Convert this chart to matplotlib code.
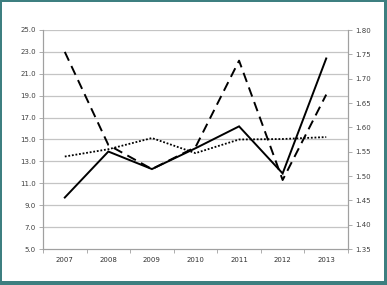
import matplotlib
matplotlib.use("Agg")
import matplotlib.pyplot as plt
from matplotlib.patches import Rectangle
import numpy as np

years = ["2007", "2008", "2009", "2010", "2011", "2012", "2013"]
solid = [9.7, 13.9, 12.3, 14.2, 16.2, 11.9, 22.4]
dashed = [23.0, 14.5, 12.3, 14.3, 22.2, 11.3, 19.1]
dotted_right = [1.540, 1.555, 1.578, 1.547, 1.575, 1.576, 1.580]

left_ticks = [5.0, 7.0, 9.0, 11.0, 13.0, 15.0, 17.0, 19.0, 21.0, 23.0, 25.0]
right_ticks = [1.35, 1.40, 1.45, 1.50, 1.55, 1.60, 1.65, 1.70, 1.75, 1.80]

W, H = 387, 285
fig = plt.figure(figsize=(W / 100, H / 100), dpi=100)
teal = "#3d7f80"
fig.patch.set_facecolor(teal)
fig.add_artist(Rectangle((2 / W, 4 / H), (W - 5) / W, (H - 6) / H,
                         transform=fig.transFigure, facecolor="white",
                         edgecolor="none", zorder=0))

ax = fig.add_axes([43 / W, 1 - 249 / H, (348 - 43) / W, (249 - 30) / H])
ax.set_facecolor("none")
ax2 = ax.twinx()

x = np.arange(len(years))
ax.plot(x, solid, color="black", lw=1.4, solid_joinstyle="miter")
ax.plot(x, dashed, color="black", lw=1.4, dashes=(5, 3))
ax2.plot(x, dotted_right, color="black", lw=1.3, dashes=(1, 1))

ax.set_xlim(-0.5, len(years) - 0.5)
ax.set_ylim(5, 25)
ax2.set_ylim(1.35, 1.80)
ax.set_yticks(left_ticks)
ax.set_yticklabels([f"{v:.1f}" for v in left_ticks])
ax2.set_yticks(right_ticks)
ax2.set_yticklabels([f"{v:.2f}" for v in right_ticks])
ax.set_xticks(x)
ax.set_xticklabels(years)
ax.set_xticks(np.arange(-0.5, len(years)), minor=True)

grid_c = "#c4c4c4"
for v in left_ticks[1:]:
    ax.axhline(v, color=grid_c, lw=0.9, zorder=0)

for a in (ax, ax2):
    a.spines["top"].set_visible(False)
    for s in ("left", "right", "bottom"):
        a.spines[s].set_color("#a0a0a0")
        a.spines[s].set_linewidth(0.8)

ax.tick_params(axis="y", length=3, width=0.6, color="#a0a0a0", labelsize=5,
               labelcolor="#404040", pad=2)
ax2.tick_params(axis="y", length=3, width=0.6, color="#a0a0a0", labelsize=5,
                labelcolor="#404040", pad=2)
ax.tick_params(axis="x", which="major", length=0, labelsize=5,
               labelcolor="#303030", pad=6)
ax.tick_params(axis="x", which="minor", length=3, width=0.6, color="#a0a0a0")

fig.savefig("out.png", dpi=100, facecolor=teal)
